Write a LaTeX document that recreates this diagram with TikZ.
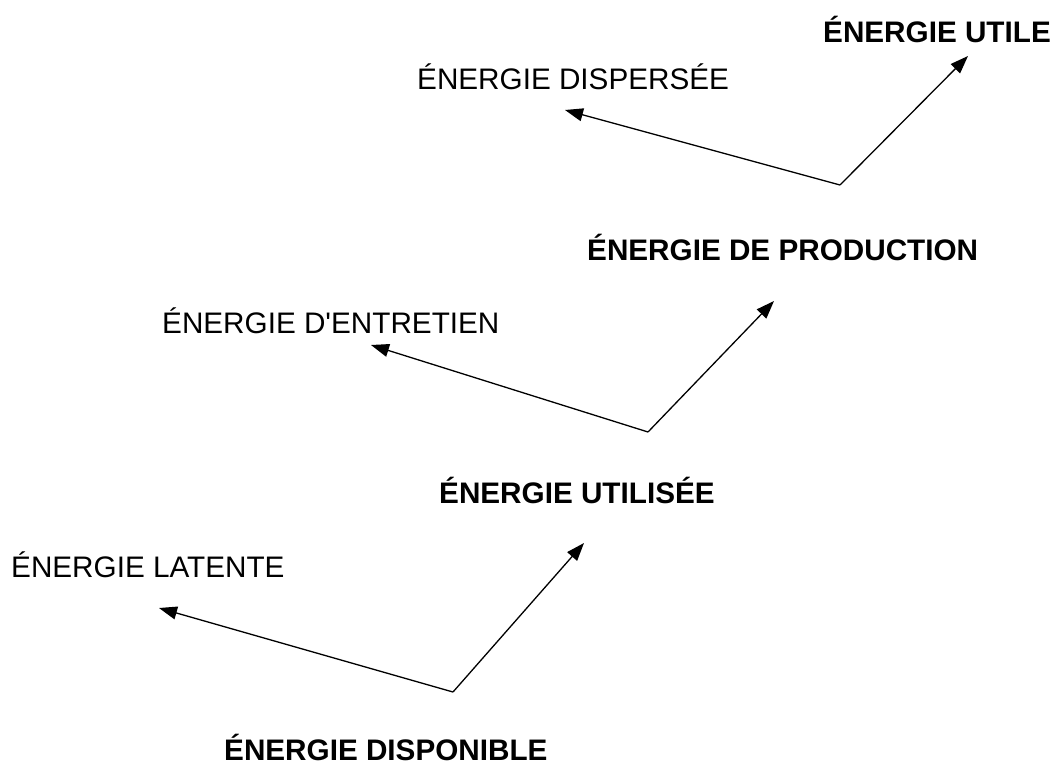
\documentclass[tikz,border=0pt]{standalone}
\usepackage{fontspec}
\setmainfont{Liberation Sans}[Ligatures=TeXOff]
\usetikzlibrary{arrows.meta}
\begin{document}
\begin{tikzpicture}[x=1bp,y=-1bp,
  lbl/.style={anchor=base west,inner sep=0pt,font=\fontsize{29.8}{34}\selectfont},
  blbl/.style={lbl,font=\fontsize{29.8}{34}\selectfont\bfseries},
  arr/.style={line width=1.3bp,-{Triangle[length=18bp,width=13bp]}}]
\useasboundingbox (0,0) rectangle (1050,767);
% labels
\node[blbl] (utile) at (823,43) {ÉNERGIE UTILE};
\node[lbl] (disp) at (417,90) {ÉNERGIE DISPERSÉE};
\node[blbl] (prod) at (587,260) {ÉNERGIE DE PRODUCTION};
\node[lbl] (entr) at (162,333) {ÉNERGIE D'ENTRETIEN};
\node[blbl] (util) at (439,503) {ÉNERGIE UTILISÉE};
\node[lbl] (lat) at (11,577) {ÉNERGIE LATENTE};
\node[blbl] (dispo) at (224,760) {ÉNERGIE DISPONIBLE};
% vertices and tips
\coordinate (v1) at (840,185);
\coordinate (t1a) at (968,56);
\coordinate (t1b) at (565,110);
\coordinate (v2) at (648,432);
\coordinate (t2a) at (774,301);
\coordinate (t2b) at (371,345);
\coordinate (v3) at (453,692);
\coordinate (t3a) at (584,543);
\coordinate (t3b) at (159,608);
\draw[arr] (v1) -- (t1a);
\draw[arr] (v1) -- (t1b);
\draw[arr] (v2) -- (t2a);
\draw[arr] (v2) -- (t2b);
\draw[arr] (v3) -- (t3a);
\draw[arr] (v3) -- (t3b);
\end{tikzpicture}
\end{document}
